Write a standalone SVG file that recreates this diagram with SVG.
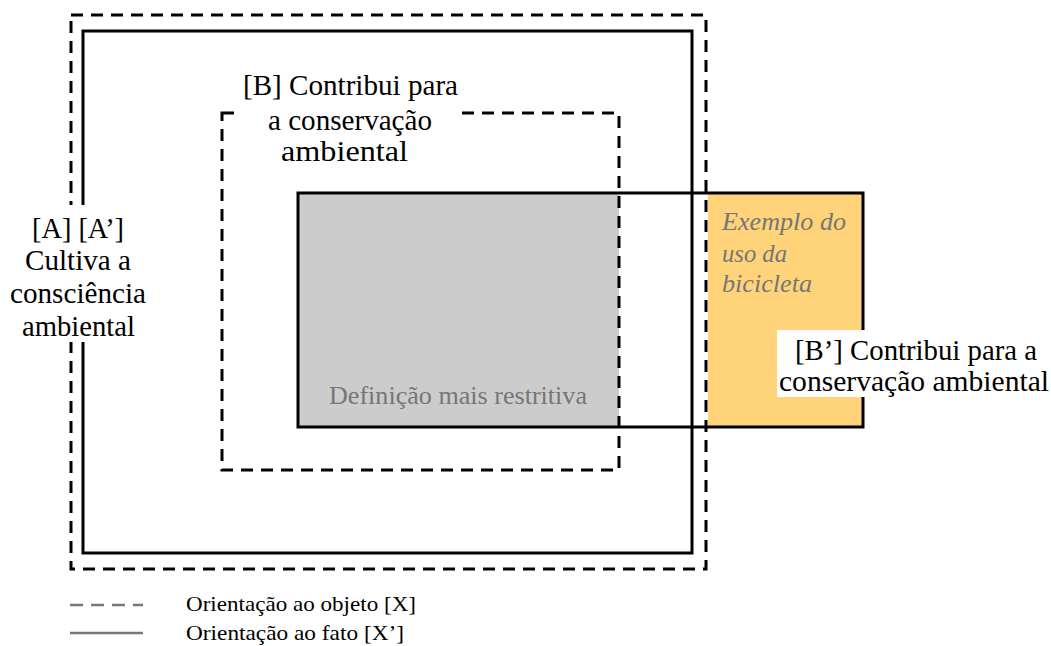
<svg xmlns="http://www.w3.org/2000/svg" width="1051" height="646" viewBox="0 0 1051 646">
<style>
.dash{fill:none;stroke:#000;stroke-width:3;stroke-dasharray:12 8}
.solid{fill:none;stroke:#000;stroke-width:3}
.t{font-family:"Liberation Serif","Times New Roman",serif;font-size:29px;fill:#000}
.g{font-family:"Liberation Serif","Times New Roman",serif;font-size:26px;fill:#767676}
.lg{font-family:"Liberation Serif","Times New Roman",serif;font-size:21px;fill:#000}
</style>
<rect width="1051" height="646" fill="#fff"/>
<g id="fills">
<rect x="298" y="193" width="321" height="234" fill="#cccccc"/>
<rect x="708" y="193" width="155" height="234" fill="#fed379"/>
</g>
<g id="connectors">
<rect id="A" class="dash" x="71" y="15" width="635" height="554"/>
<rect id="Aprime" class="solid" x="83" y="31" width="609" height="522"/>
<rect id="B" class="dash" x="222" y="113" width="397" height="357"/>
<rect id="Bprime" class="solid" x="298" y="193" width="565" height="234"/>
</g>
<g id="labelA">
<rect x="5" y="205" width="146" height="137" fill="#fff"/>
<text class="t" x="32" y="238" textLength="92" lengthAdjust="spacingAndGlyphs">[A] [A’]</text>
<text class="t" x="25" y="270" textLength="106" lengthAdjust="spacingAndGlyphs">Cultiva a</text>
<text class="t" x="10" y="303" textLength="136" lengthAdjust="spacingAndGlyphs">consciência</text>
<text class="t" x="22" y="336" textLength="113" lengthAdjust="spacingAndGlyphs">ambiental</text>
</g>
<g id="labelB">
<rect x="236" y="68" width="225" height="102" fill="#fff"/>
<text class="t" x="243" y="95" textLength="215" lengthAdjust="spacingAndGlyphs">[B] Contribui para</text>
<text class="t" x="268" y="130" textLength="164" lengthAdjust="spacingAndGlyphs">a conservação</text>
<text class="t" x="281" y="161" textLength="127" lengthAdjust="spacingAndGlyphs">ambiental</text>
</g>
<g id="labelBprime">
<rect x="777" y="330" width="274" height="67" fill="#fff"/>
<text class="t" x="795" y="360" textLength="242" lengthAdjust="spacingAndGlyphs">[B’] Contribui para a</text>
<text class="t" x="779" y="391" textLength="270" lengthAdjust="spacingAndGlyphs">conservação ambiental</text>
</g>
<g id="bike">
<text class="g" font-style="italic" x="722" y="230" textLength="124" lengthAdjust="spacingAndGlyphs">Exemplo do</text>
<text class="g" font-style="italic" x="722" y="262" textLength="65" lengthAdjust="spacingAndGlyphs">uso da</text>
<text class="g" font-style="italic" x="722" y="292" textLength="90" lengthAdjust="spacingAndGlyphs">bicicleta</text>
</g>
<g id="restrict">
<text class="g" x="329" y="404" textLength="258" lengthAdjust="spacingAndGlyphs">Definição mais restritiva</text>
</g>
<g id="legend">
<line x1="70" y1="605" x2="143" y2="605" stroke="#777" stroke-width="2.5" stroke-dasharray="13 8"/>
<line x1="70" y1="633" x2="143" y2="633" stroke="#777" stroke-width="2.5"/>
<text class="lg" x="186" y="611" textLength="230" lengthAdjust="spacingAndGlyphs">Orientação ao objeto [X]</text>
<text class="lg" x="186" y="640" textLength="218" lengthAdjust="spacingAndGlyphs">Orientação ao fato [X’]</text>
</g>
</svg>
